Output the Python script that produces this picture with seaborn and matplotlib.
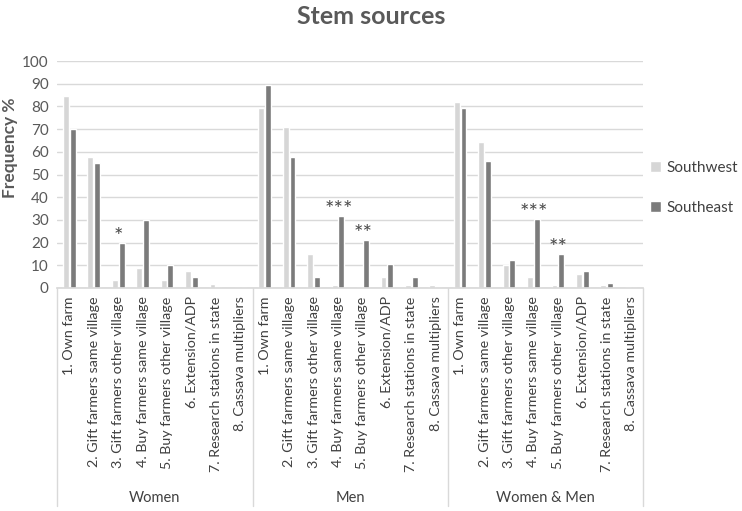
import pandas as pd
import seaborn as sns
import matplotlib

matplotlib.use("Agg")
from matplotlib import pyplot as plt

groups = ["Women", "Men", "Women & Men"]
sources = [
    "1. Own farm",
    "2. Gift farmers same village",
    "3. Gift farmers other village",
    "4. Buy farmers same village",
    "5. Buy farmers other village",
    "6. Extension/ADP",
    "7. Research stations in state",
    "8. Cassava multipliers",
]
regions = ["Southwest", "Southeast"]

southwest = [
    84.5, 57.5, 3.5, 9.0, 3.5, 7.5, 1.8, 0.0,
    79.5, 71.0, 15.0, 1.3, 0.0, 4.7, 1.3, 1.3,
    82.0, 64.5, 10.0, 5.0, 1.3, 6.0, 1.3, 0.6,
]
southeast = [
    70.0, 55.0, 20.0, 30.0, 10.0, 5.0, 0.0, 0.0,
    89.5, 57.5, 5.0, 31.5, 21.0, 10.5, 5.0, 0.0,
    79.5, 56.0, 12.5, 30.5, 15.0, 7.5, 2.2, 0.0,
]
# significance marks shown above the Southeast bars
significance = [
    "", "", "*", "", "", "", "", "",
    "", "", "", "***", "**", "", "", "",
    "", "", "", "***", "**", "", "", "",
]

slots = [f"{g}|{s}" for g in groups for s in sources]
df = pd.DataFrame({
    "slot": slots * 2,
    "region": [regions[0]] * len(slots) + [regions[1]] * len(slots),
    "value": southwest + southeast,
})

sns.set_theme(style="whitegrid")
plt.rcParams["font.family"] = ["Lato", "DejaVu Sans"]
text_color = "#595959"
grid_color = "#d9d9d9"

fig = plt.figure(figsize=(7.42, 5.11), dpi=100)
ax = fig.add_axes([0.077, 0.4364, 0.79, 0.4442])

sns.barplot(data=df, x="slot", y="value", hue="region", order=slots,
            palette=["#d6d6d6", "#7b7b7b"], width=0.55, gap=0.12,
            saturation=1, ax=ax)

ax.set_ylim(0, 100)
ax.set_xlim(-0.5, len(slots) - 0.5)
ax.set_yticks(range(0, 101, 10))
ax.tick_params(axis="y", labelsize=11, colors=text_color, length=0, pad=6)
ax.set_xticks(range(len(slots)))
ax.set_xticklabels([s for g in groups for s in sources], rotation=90,
                   fontsize=10.3, color="#404040")
ax.tick_params(axis="x", length=0, pad=6)
ax.grid(axis="y", color=grid_color, linewidth=1)
ax.grid(axis="x", visible=False)
for side in ["left", "right", "top"]:
    ax.spines[side].set_visible(False)
ax.spines["bottom"].set_color(grid_color)
ax.set_xlabel("")
ax.set_ylabel("Frequency %", fontsize=12.5, fontweight="bold", color=text_color)
ax.yaxis.set_label_coords(-0.066, 0.62)

# significance stars
for bar, mark in zip(ax.containers[1], significance):
    if mark:
        ax.annotate(mark, (bar.get_x(), bar.get_height()), xytext=(0, 0),
                    textcoords="offset points", ha="center", va="baseline",
                    fontsize=16, color="#4a4a4a")

# group separators and labels below tick labels
trans = ax.get_xaxis_transform()
n = len(sources)
for k in range(len(groups) + 1):
    ax.plot([k * n - 0.5] * 2, [0, -0.96], transform=trans, color=grid_color,
            linewidth=1, clip_on=False)
for k, g in enumerate(groups):
    ax.text(k * n + (n - 1) / 2, -0.925, g, transform=trans, ha="center",
            va="center", fontsize=10.5, color="#404040")

ax.legend(loc="center left", bbox_to_anchor=(1.012, 0.44), frameon=False,
          borderaxespad=0, borderpad=0, fontsize=11, labelspacing=1.7,
          handlelength=0.7, handleheight=0.7, handletextpad=0.35,
          labelcolor="#404040")

fig.suptitle("Stem sources", fontsize=18, fontweight="bold", color=text_color, y=0.99)

fig.savefig("out.png", dpi=100)
